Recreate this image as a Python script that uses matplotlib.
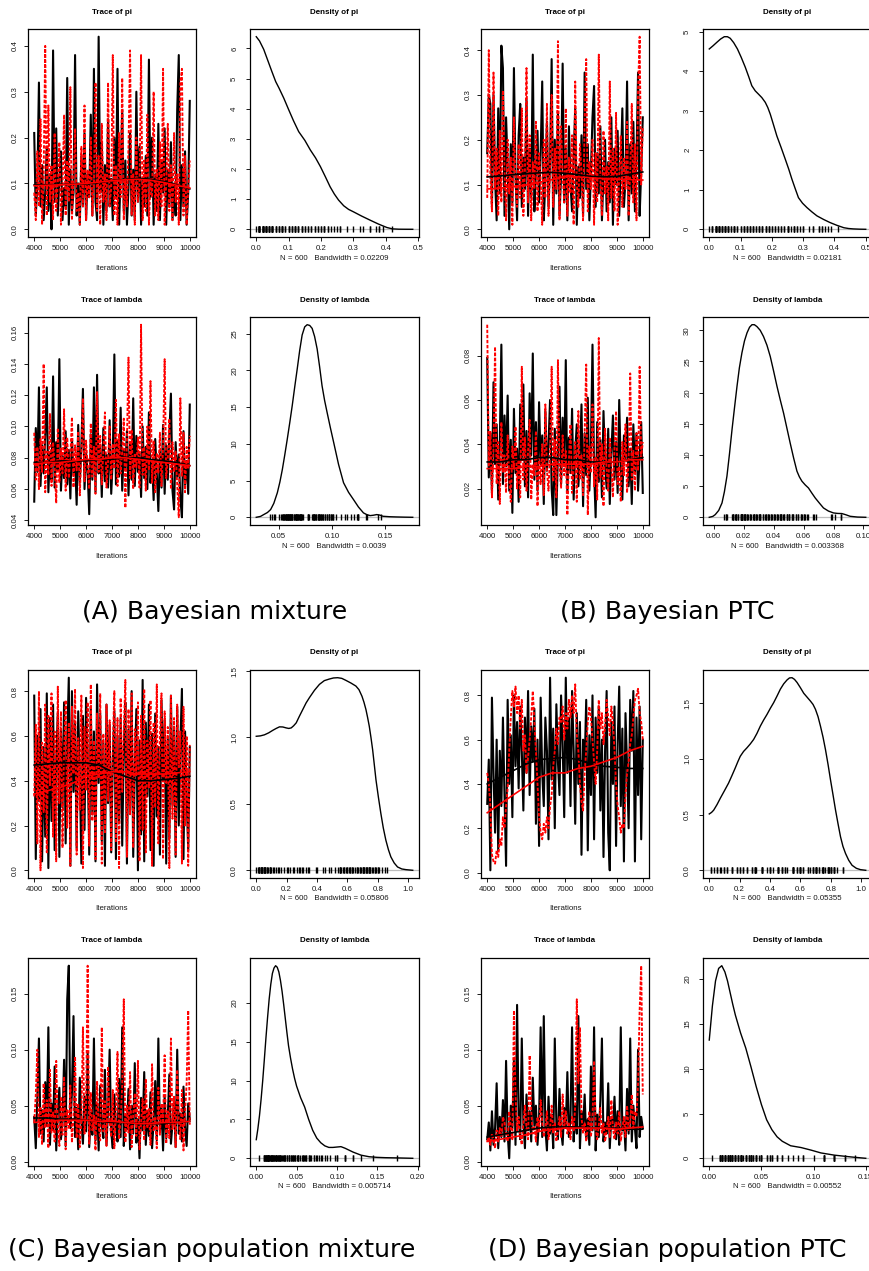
import numpy as np
import matplotlib
matplotlib.use('Agg')
from matplotlib import pyplot as plt

plt.rcParams['font.family'] = ['Liberation Sans', 'DejaVu Sans']

# ---------------------------------------------------------------------------
# MCMC samples (thinned), chain 1 = black, chain 2 = red
# ---------------------------------------------------------------------------
a_pi_black = [0.21, 0.03, 0.10, 0.32, 0.05, 0.14, 0.02, 0.08, 0.18, 0.04,
              0.12, 0.00, 0.39, 0.06, 0.22, 0.03, 0.11, 0.17, 0.02, 0.09,
              0.05, 0.33, 0.01, 0.13, 0.04, 0.08, 0.38, 0.03, 0.10, 0.01,
              0.16, 0.05, 0.21, 0.02, 0.12, 0.07, 0.25, 0.03, 0.35, 0.06,
              0.02, 0.42, 0.08, 0.19, 0.01, 0.14, 0.04, 0.24, 0.05, 0.11,
              0.02, 0.20, 0.07, 0.35, 0.01, 0.12, 0.26, 0.04, 0.15, 0.01,
              0.09, 0.21, 0.03, 0.13, 0.02, 0.30, 0.06, 0.18, 0.01, 0.11,
              0.05, 0.16, 0.03, 0.37, 0.07, 0.20, 0.01, 0.12, 0.04, 0.23,
              0.02, 0.15, 0.08, 0.22, 0.01, 0.13, 0.05, 0.19, 0.02, 0.10,
              0.03, 0.26, 0.38, 0.02, 0.14, 0.05, 0.17, 0.01, 0.08, 0.28]
a_pi_red = [0.08, 0.02, 0.17, 0.05, 0.24, 0.01, 0.12, 0.40, 0.03, 0.27,
            0.06, 0.14, 0.02, 0.21, 0.04, 0.10, 0.19, 0.01, 0.09, 0.25,
            0.03, 0.15, 0.06, 0.31, 0.02, 0.11, 0.22, 0.04, 0.08, 0.01,
            0.18, 0.05, 0.27, 0.02, 0.13, 0.07, 0.20, 0.03, 0.10, 0.32,
            0.04, 0.16, 0.01, 0.23, 0.06, 0.12, 0.02, 0.32, 0.05, 0.09,
            0.38, 0.03, 0.14, 0.01, 0.21, 0.07, 0.33, 0.02, 0.11, 0.05,
            0.18, 0.39, 0.03, 0.12, 0.01, 0.20, 0.06, 0.09, 0.38, 0.02,
            0.15, 0.04, 0.25, 0.01, 0.11, 0.07, 0.30, 0.03, 0.13, 0.02,
            0.19, 0.05, 0.35, 0.01, 0.10, 0.23, 0.04, 0.14, 0.02, 0.21,
            0.06, 0.12, 0.01, 0.32, 0.35, 0.03, 0.16, 0.01, 0.09, 0.15]
a_lam_black = [0.052, 0.099, 0.071, 0.125, 0.062, 0.088, 0.070, 0.094, 0.125, 0.058,
               0.083, 0.066, 0.132, 0.061, 0.090, 0.072, 0.143, 0.059, 0.081, 0.067,
               0.097, 0.063, 0.085, 0.054, 0.092, 0.069, 0.078, 0.050, 0.101, 0.064,
               0.087, 0.124, 0.060, 0.083, 0.071, 0.044, 0.095, 0.066, 0.125, 0.058,
               0.133, 0.070, 0.088, 0.055, 0.099, 0.065, 0.082, 0.061, 0.104, 0.057,
               0.079, 0.146, 0.063, 0.091, 0.068, 0.112, 0.059, 0.085, 0.073, 0.097,
               0.056, 0.089, 0.066, 0.118, 0.062, 0.094, 0.071, 0.083, 0.055, 0.100,
               0.067, 0.087, 0.060, 0.109, 0.064, 0.078, 0.053, 0.092, 0.070, 0.046,
               0.084, 0.061, 0.101, 0.057, 0.088, 0.066, 0.095, 0.121, 0.059, 0.047,
               0.090, 0.068, 0.082, 0.054, 0.042, 0.097, 0.063, 0.078, 0.057, 0.114]
a_lam_red = [0.096, 0.066, 0.087, 0.060, 0.092, 0.071, 0.140, 0.058, 0.084, 0.069,
             0.108, 0.062, 0.090, 0.075, 0.051, 0.099, 0.064, 0.086, 0.070, 0.111,
             0.059, 0.093, 0.067, 0.081, 0.106, 0.061, 0.088, 0.072, 0.097, 0.056,
             0.083, 0.118, 0.065, 0.091, 0.074, 0.060, 0.102, 0.068, 0.087, 0.057,
             0.122, 0.071, 0.094, 0.063, 0.085, 0.109, 0.061, 0.078, 0.100, 0.066,
             0.089, 0.073, 0.117, 0.062, 0.095, 0.070, 0.084, 0.105, 0.048, 0.090,
             0.144, 0.067, 0.098, 0.060, 0.083, 0.074, 0.093, 0.061, 0.165, 0.069,
             0.087, 0.059, 0.100, 0.072, 0.129, 0.064, 0.091, 0.058, 0.083, 0.070,
             0.096, 0.062, 0.087, 0.143, 0.067, 0.079, 0.105, 0.060, 0.090, 0.071,
             0.084, 0.063, 0.042, 0.118, 0.068, 0.096, 0.058, 0.087, 0.073, 0.094]

b_pi_black = [0.17, 0.30, 0.28, 0.05, 0.30, 0.11, 0.02, 0.27, 0.08, 0.41,
              0.36, 0.03, 0.25, 0.14, 0.00, 0.19, 0.06, 0.36, 0.12, 0.02,
              0.21, 0.28, 0.05, 0.16, 0.09, 0.29, 0.03, 0.18, 0.07, 0.39,
              0.04, 0.13, 0.22, 0.06, 0.17, 0.33, 0.02, 0.11, 0.24, 0.05,
              0.15, 0.38, 0.01, 0.20, 0.08, 0.26, 0.03, 0.12, 0.37, 0.06,
              0.18, 0.02, 0.23, 0.10, 0.04, 0.16, 0.27, 0.01, 0.14, 0.07,
              0.21, 0.03, 0.35, 0.09, 0.19, 0.02, 0.13, 0.25, 0.32, 0.05,
              0.17, 0.08, 0.23, 0.02, 0.12, 0.20, 0.04, 0.15, 0.06, 0.25,
              0.01, 0.18, 0.10, 0.22, 0.03, 0.14, 0.27, 0.05, 0.11, 0.33,
              0.02, 0.19, 0.08, 0.24, 0.04, 0.16, 0.35, 0.03, 0.13, 0.25]
b_pi_red = [0.07, 0.40, 0.12, 0.04, 0.35, 0.09, 0.18, 0.03, 0.22, 0.06,
            0.31, 0.14, 0.02, 0.20, 0.08, 0.16, 0.01, 0.25, 0.10, 0.05,
            0.19, 0.07, 0.27, 0.03, 0.13, 0.36, 0.06, 0.21, 0.02, 0.15,
            0.09, 0.24, 0.04, 0.17, 0.11, 0.01, 0.20, 0.07, 0.28, 0.03,
            0.14, 0.30, 0.05, 0.18, 0.09, 0.42, 0.02, 0.23, 0.12, 0.06,
            0.27, 0.03, 0.16, 0.08, 0.21, 0.01, 0.33, 0.10, 0.05, 0.19,
            0.13, 0.02, 0.24, 0.38, 0.04, 0.15, 0.09, 0.20, 0.01, 0.17,
            0.06, 0.39, 0.11, 0.03, 0.22, 0.08, 0.14, 0.02, 0.33, 0.07,
            0.18, 0.04, 0.26, 0.01, 0.12, 0.21, 0.05, 0.16, 0.09, 0.24,
            0.03, 0.13, 0.28, 0.06, 0.19, 0.02, 0.31, 0.43, 0.10, 0.23]
b_lam_black = [0.079, 0.025, 0.045, 0.018, 0.068, 0.031, 0.049, 0.015, 0.040, 0.085,
               0.022, 0.053, 0.030, 0.062, 0.019, 0.042, 0.009, 0.056, 0.027, 0.038,
               0.014, 0.058, 0.033, 0.067, 0.021, 0.046, 0.016, 0.063, 0.035, 0.081,
               0.024, 0.050, 0.019, 0.059, 0.031, 0.044, 0.013, 0.055, 0.028, 0.040,
               0.060, 0.020, 0.008, 0.047, 0.008, 0.036, 0.066, 0.022, 0.052, 0.030,
               0.078, 0.018, 0.043, 0.027, 0.056, 0.015, 0.037, 0.049, 0.021, 0.034,
               0.058, 0.012, 0.045, 0.026, 0.061, 0.019, 0.039, 0.085, 0.028, 0.007,
               0.050, 0.023, 0.042, 0.016, 0.055, 0.031, 0.020, 0.047, 0.013, 0.036,
               0.053, 0.024, 0.041, 0.018, 0.060, 0.029, 0.015, 0.044, 0.033, 0.052,
               0.021, 0.038, 0.013, 0.049, 0.027, 0.045, 0.019, 0.035, 0.050, 0.018]
b_lam_red = [0.094, 0.030, 0.046, 0.016, 0.038, 0.084, 0.022, 0.041, 0.013, 0.050,
             0.027, 0.035, 0.018, 0.044, 0.025, 0.014, 0.039, 0.029, 0.048, 0.020,
             0.033, 0.016, 0.075, 0.024, 0.043, 0.019, 0.037, 0.051, 0.015, 0.031,
             0.026, 0.046, 0.012, 0.034, 0.022, 0.040, 0.017, 0.058, 0.028, 0.019,
             0.036, 0.075, 0.023, 0.042, 0.016, 0.078, 0.030, 0.020, 0.044, 0.026,
             0.037, 0.008, 0.033, 0.049, 0.018, 0.029, 0.041, 0.014, 0.055, 0.024,
             0.035, 0.017, 0.045, 0.076, 0.008, 0.039, 0.027, 0.058, 0.021, 0.034,
             0.015, 0.088, 0.025, 0.040, 0.012, 0.047, 0.029, 0.019, 0.043, 0.031,
             0.016, 0.038, 0.055, 0.022, 0.030, 0.014, 0.041, 0.026, 0.049, 0.018,
             0.033, 0.072, 0.024, 0.037, 0.019, 0.045, 0.028, 0.075, 0.034, 0.041]

c_pi_black = [0.78, 0.05, 0.60, 0.31, 0.72, 0.04, 0.55, 0.15, 0.79, 0.01,
              0.68, 0.22, 0.74, 0.09, 0.48, 0.70, 0.06, 0.63, 0.28, 0.75,
              0.12, 0.58, 0.86, 0.02, 0.80, 0.35, 0.66, 0.10, 0.71, 0.44,
              0.03, 0.69, 0.18, 0.77, 0.52, 0.07, 0.73, 0.25, 0.62, 0.04,
              0.83, 0.39, 0.70, 0.13, 0.57, 0.02, 0.74, 0.30, 0.65, 0.08,
              0.49, 0.71, 0.05, 0.60, 0.21, 0.68, 0.11, 0.54, 0.75, 0.03,
              0.63, 0.27, 0.80, 0.06, 0.45, 0.72, 0.00, 0.58, 0.16, 0.85,
              0.04, 0.66, 0.33, 0.74, 0.09, 0.61, 0.02, 0.70, 0.24, 0.55,
              0.07, 0.76, 0.40, 0.67, 0.03, 0.59, 0.14, 0.78, 0.29, 0.64,
              0.06, 0.73, 0.20, 0.56, 0.81, 0.05, 0.62, 0.34, 0.09, 0.55]
c_pi_red = [0.33, 0.65, 0.12, 0.80, 0.00, 0.57, 0.26, 0.74, 0.08, 0.69,
            0.38, 0.79, 0.15, 0.62, 0.04, 0.82, 0.30, 0.71, 0.10, 0.53,
            0.76, 0.19, 0.66, 0.02, 0.73, 0.43, 0.81, 0.07, 0.59, 0.27,
            0.78, 0.01, 0.64, 0.36, 0.75, 0.11, 0.83, 0.22, 0.58, 0.05,
            0.70, 0.41, 0.79, 0.03, 0.61, 0.17, 0.74, 0.31, 0.67, 0.09,
            0.56, 0.80, 0.13, 0.68, 0.01, 0.77, 0.35, 0.62, 0.85, 0.06,
            0.72, 0.25, 0.79, 0.10, 0.63, 0.42, 0.75, 0.04, 0.69, 0.18,
            0.81, 0.08, 0.58, 0.37, 0.76, 0.02, 0.66, 0.28, 0.83, 0.12,
            0.60, 0.79, 0.05, 0.71, 0.39, 0.64, 0.01, 0.78, 0.23, 0.68,
            0.07, 0.74, 0.46, 0.62, 0.03, 0.73, 0.20, 0.60, 0.02, 0.56]
c_lam_black = [0.040, 0.012, 0.058, 0.110, 0.025, 0.046, 0.018, 0.071, 0.032, 0.120,
               0.015, 0.052, 0.028, 0.085, 0.010, 0.043, 0.066, 0.020, 0.035, 0.091,
               0.014, 0.145, 0.175, 0.030, 0.062, 0.130, 0.022, 0.048, 0.011, 0.075,
               0.036, 0.016, 0.058, 0.027, 0.098, 0.013, 0.044, 0.024, 0.110, 0.019,
               0.052, 0.010, 0.068, 0.033, 0.021, 0.082, 0.015, 0.047, 0.100, 0.026,
               0.012, 0.060, 0.031, 0.018, 0.074, 0.022, 0.120, 0.014, 0.041, 0.029,
               0.065, 0.011, 0.050, 0.025, 0.088, 0.017, 0.038, 0.003, 0.057, 0.028,
               0.080, 0.015, 0.045, 0.023, 0.062, 0.012, 0.036, 0.072, 0.019, 0.110,
               0.027, 0.048, 0.010, 0.059, 0.021, 0.040, 0.078, 0.016, 0.034, 0.054,
               0.013, 0.100, 0.025, 0.043, 0.018, 0.067, 0.030, 0.014, 0.052, 0.038]
c_lam_red = [0.035, 0.060, 0.100, 0.022, 0.048, 0.015, 0.070, 0.030, 0.055, 0.012,
             0.082, 0.026, 0.044, 0.018, 0.090, 0.033, 0.014, 0.058, 0.024, 0.076,
             0.011, 0.046, 0.029, 0.068, 0.017, 0.040, 0.094, 0.021, 0.052, 0.013,
             0.037, 0.120, 0.025, 0.050, 0.175, 0.016, 0.062, 0.028, 0.041, 0.010,
             0.072, 0.032, 0.019, 0.120, 0.027, 0.054, 0.014, 0.085, 0.036, 0.022,
             0.064, 0.012, 0.045, 0.098, 0.020, 0.038, 0.068, 0.145, 0.017, 0.050,
             0.026, 0.080, 0.013, 0.042, 0.061, 0.023, 0.090, 0.011, 0.035, 0.056,
             0.019, 0.074, 0.030, 0.047, 0.015, 0.087, 0.027, 0.039, 0.012, 0.066,
             0.024, 0.052, 0.034, 0.095, 0.016, 0.045, 0.021, 0.110, 0.029, 0.058,
             0.013, 0.082, 0.037, 0.020, 0.064, 0.010, 0.044, 0.070, 0.135, 0.033]

d_pi_black = [0.31, 0.51, 0.01, 0.79, 0.45, 0.18, 0.60, 0.10, 0.55, 0.30,
              0.70, 0.35, 0.03, 0.78, 0.40, 0.62, 0.25, 0.80, 0.48, 0.68,
              0.38, 0.75, 0.55, 0.28, 0.70, 0.45, 0.82, 0.35, 0.66, 0.50,
              0.74, 0.22, 0.60, 0.12, 0.79, 0.45, 0.30, 0.70, 0.55, 0.15,
              0.88, 0.42, 0.65, 0.20, 0.76, 0.50, 0.35, 0.80, 0.58, 0.25,
              0.88, 0.45, 0.70, 0.30, 0.82, 0.55, 0.22, 0.72, 0.40, 0.68,
              0.08, 0.60, 0.48, 0.78, 0.10, 0.62, 0.35, 0.80, 0.15, 0.70,
              0.45, 0.75, 0.28, 0.60, 0.07, 0.55, 0.82, 0.18, 0.01, 0.68,
              0.40, 0.75, 0.12, 0.58, 0.84, 0.30, 0.65, 0.05, 0.72, 0.48,
              0.20, 0.78, 0.55, 0.82, 0.05, 0.70, 0.35, 0.75, 0.15, 0.60]
d_pi_red = [0.45, 0.40, 0.30, 0.08, 0.05, 0.04, 0.10, 0.07, 0.15, 0.12,
            0.25, 0.20, 0.30, 0.38, 0.55, 0.70, 0.82, 0.75, 0.84, 0.72,
            0.80, 0.65, 0.78, 0.55, 0.62, 0.45, 0.52, 0.60, 0.70, 0.82,
            0.68, 0.55, 0.40, 0.25, 0.18, 0.15, 0.22, 0.18, 0.25, 0.20,
            0.30, 0.35, 0.48, 0.55, 0.65, 0.58, 0.70, 0.68, 0.75, 0.60,
            0.72, 0.65, 0.78, 0.70, 0.80, 0.72, 0.85, 0.62, 0.55, 0.40,
            0.32, 0.28, 0.45, 0.55, 0.68, 0.75, 0.70, 0.60, 0.50, 0.40,
            0.55, 0.78, 0.65, 0.72, 0.58, 0.66, 0.78, 0.70, 0.62, 0.75,
            0.68, 0.55, 0.40, 0.30, 0.25, 0.18, 0.22, 0.20, 0.35, 0.45,
            0.50, 0.58, 0.62, 0.70, 0.78, 0.80, 0.83, 0.72, 0.68, 0.60]
d_lam_black = [0.020, 0.035, 0.010, 0.045, 0.015, 0.030, 0.070, 0.012, 0.040, 0.022,
               0.055, 0.018, 0.090, 0.025, 0.003, 0.050, 0.030, 0.090, 0.015, 0.140,
               0.040, 0.020, 0.110, 0.035, 0.012, 0.060, 0.028, 0.045, 0.018, 0.075,
               0.032, 0.050, 0.015, 0.038, 0.120, 0.022, 0.130, 0.030, 0.010, 0.058,
               0.025, 0.042, 0.012, 0.110, 0.035, 0.020, 0.065, 0.028, 0.015, 0.048,
               0.030, 0.080, 0.022, 0.040, 0.120, 0.018, 0.050, 0.025, 0.130, 0.012,
               0.045, 0.030, 0.060, 0.020, 0.038, 0.015, 0.085, 0.028, 0.120, 0.010,
               0.042, 0.022, 0.055, 0.110, 0.018, 0.035, 0.025, 0.070, 0.012, 0.040,
               0.030, 0.058, 0.020, 0.045, 0.015, 0.120, 0.028, 0.038, 0.010, 0.065,
               0.025, 0.110, 0.018, 0.050, 0.030, 0.012, 0.100, 0.022, 0.040, 0.030]
d_lam_red = [0.018, 0.022, 0.015, 0.025, 0.020, 0.012, 0.028, 0.018, 0.030, 0.022,
             0.040, 0.035, 0.025, 0.018, 0.045, 0.030, 0.020, 0.135, 0.060, 0.028,
             0.040, 0.022, 0.015, 0.035, 0.050, 0.030, 0.020, 0.095, 0.045, 0.025,
             0.032, 0.018, 0.040, 0.028, 0.055, 0.035, 0.022, 0.030, 0.045, 0.020,
             0.030, 0.050, 0.025, 0.035, 0.018, 0.028, 0.040, 0.022, 0.060, 0.030,
             0.045, 0.025, 0.035, 0.020, 0.040, 0.028, 0.050, 0.145, 0.070, 0.120,
             0.040, 0.025, 0.035, 0.018, 0.030, 0.045, 0.022, 0.038, 0.090, 0.030,
             0.020, 0.032, 0.048, 0.025, 0.035, 0.018, 0.028, 0.040, 0.022, 0.055,
             0.030, 0.020, 0.035, 0.025, 0.045, 0.018, 0.030, 0.040, 0.022, 0.050,
             0.028, 0.035, 0.060, 0.030, 0.045, 0.040, 0.070, 0.135, 0.175, 0.060]

# lowess smooths of each chain, evaluated every 500 iterations
smooth_iter = [4000, 4500, 5000, 5500, 6000, 6500, 7000, 7500, 8000, 8500, 9000, 9500, 10000]
a_pi_smooth_black = [0.097, 0.097, 0.098, 0.098, 0.099, 0.102, 0.106, 0.109, 0.111, 0.109, 0.104, 0.097, 0.088]
a_pi_smooth_red = [0.095, 0.096, 0.097, 0.098, 0.100, 0.103, 0.106, 0.108, 0.109, 0.107, 0.102, 0.096, 0.090]
a_lam_smooth_black = [0.077, 0.077, 0.078, 0.078, 0.078, 0.079, 0.079, 0.080, 0.080, 0.079, 0.078, 0.077, 0.075]
a_lam_smooth_red = [0.076, 0.077, 0.077, 0.078, 0.079, 0.079, 0.080, 0.080, 0.079, 0.078, 0.077, 0.076, 0.075]
b_pi_smooth_black = [0.117, 0.119, 0.122, 0.124, 0.126, 0.127, 0.125, 0.122, 0.118, 0.117, 0.118, 0.123, 0.128]
b_pi_smooth_red = [0.090, 0.092, 0.095, 0.099, 0.105, 0.111, 0.118, 0.117, 0.115, 0.113, 0.112, 0.111, 0.110]
b_lam_smooth_black = [0.032, 0.032, 0.033, 0.033, 0.034, 0.034, 0.033, 0.033, 0.032, 0.032, 0.032, 0.033, 0.034]
b_lam_smooth_red = [0.029, 0.029, 0.029, 0.030, 0.030, 0.031, 0.031, 0.031, 0.031, 0.032, 0.032, 0.033, 0.033]
c_pi_smooth_black = [0.47, 0.475, 0.48, 0.48, 0.48, 0.47, 0.44, 0.42, 0.40, 0.40, 0.405, 0.41, 0.42]
c_pi_smooth_red = [0.34, 0.355, 0.37, 0.39, 0.42, 0.43, 0.44, 0.44, 0.43, 0.43, 0.43, 0.435, 0.44]
c_lam_smooth_black = [0.039, 0.039, 0.038, 0.038, 0.037, 0.036, 0.035, 0.035, 0.034, 0.034, 0.034, 0.035, 0.036]
c_lam_smooth_red = [0.035, 0.036, 0.037, 0.037, 0.037, 0.036, 0.036, 0.035, 0.034, 0.034, 0.035, 0.035, 0.036]
d_pi_smooth_black = [0.40, 0.43, 0.46, 0.49, 0.51, 0.515, 0.52, 0.51, 0.49, 0.48, 0.475, 0.47, 0.47]
d_pi_smooth_red = [0.27, 0.31, 0.35, 0.39, 0.43, 0.45, 0.45, 0.47, 0.48, 0.50, 0.52, 0.55, 0.57]
d_lam_smooth_black = [0.022, 0.024, 0.026, 0.028, 0.030, 0.031, 0.031, 0.031, 0.030, 0.030, 0.030, 0.029, 0.029]
d_lam_smooth_red = [0.018, 0.020, 0.022, 0.024, 0.027, 0.029, 0.030, 0.030, 0.030, 0.030, 0.029, 0.030, 0.031]

# kernel density estimates of chain 1
a_pi_dens_x = [0.000, 0.010, 0.023, 0.035, 0.048, 0.060, 0.070, 0.085, 0.100, 0.115,
               0.131, 0.150, 0.167, 0.183, 0.198, 0.213, 0.228, 0.241, 0.254, 0.270,
               0.285, 0.300, 0.325, 0.352, 0.378, 0.403, 0.420, 0.440, 0.460, 0.483]
a_pi_dens_y = [6.39, 6.25, 5.97, 5.62, 5.24, 4.90, 4.69, 4.35, 3.97, 3.60,
               3.24, 2.95, 2.63, 2.37, 2.08, 1.75, 1.41, 1.17, 0.97, 0.78,
               0.66, 0.58, 0.44, 0.30, 0.17, 0.06, 0.015, 0.003, 0.001, 0.000]
a_lam_dens_x = [0.029, 0.033, 0.036, 0.0395, 0.0425, 0.0455, 0.0488, 0.0512, 0.0535, 0.0558,
                0.0581, 0.0605, 0.0628, 0.0652, 0.0675, 0.0698, 0.0721, 0.0745, 0.0768, 0.0792,
                0.0815, 0.0838, 0.0862, 0.0885, 0.0908, 0.0932, 0.0955, 0.0986, 0.1017, 0.1063,
                0.111, 0.1157, 0.1204, 0.125, 0.1297, 0.133, 0.136, 0.139, 0.1422, 0.145,
                0.148, 0.154, 0.160, 0.168, 0.176]
a_lam_dens_y = [0.0, 0.12, 0.37, 0.65, 1.05, 1.9, 3.34, 4.8, 6.5, 8.5,
                10.6, 12.9, 15.2, 17.8, 20.2, 22.7, 24.8, 25.9, 26.2, 26.1,
                25.7, 24.6, 22.9, 20.5, 17.9, 15.9, 14.3, 12.2, 10.2, 7.2,
                4.7, 3.4, 2.4, 1.4, 0.6, 0.35, 0.23, 0.28, 0.37, 0.3,
                0.14, 0.08, 0.05, 0.02, 0.0]
b_pi_dens_x = [0.000, 0.012, 0.0245, 0.036, 0.048, 0.058, 0.067, 0.078, 0.090, 0.102,
               0.115, 0.126, 0.136, 0.147, 0.157, 0.168, 0.179, 0.187, 0.195, 0.205,
               0.216, 0.230, 0.243, 0.254, 0.264, 0.275, 0.285, 0.298, 0.312, 0.328,
               0.344, 0.365, 0.386, 0.408, 0.430, 0.445, 0.460, 0.480, 0.500]
b_pi_dens_y = [4.56, 4.64, 4.73, 4.81, 4.87, 4.87, 4.83, 4.72, 4.56, 4.35,
               4.10, 3.86, 3.63, 3.50, 3.42, 3.33, 3.21, 3.08, 2.91, 2.65,
               2.36, 2.06, 1.77, 1.52, 1.27, 1.02, 0.80, 0.66, 0.55, 0.44,
               0.34, 0.25, 0.17, 0.10, 0.04, 0.02, 0.01, 0.003, 0.0]
b_lam_dens_x = [-0.0029, -0.0005, 0.0011, 0.0034, 0.0056, 0.0072, 0.0089, 0.0106, 0.0123, 0.0140,
                0.0156, 0.0172, 0.0189, 0.0206, 0.0223, 0.0240, 0.0256, 0.0272, 0.0289, 0.0311,
                0.0333, 0.0356, 0.0378, 0.0400, 0.0423, 0.0445, 0.0467, 0.0489, 0.0511, 0.0534,
                0.0556, 0.0572, 0.0589, 0.0611, 0.0633, 0.0655, 0.0678, 0.0705, 0.0733, 0.0766,
                0.080, 0.0828, 0.0856, 0.0883, 0.0911, 0.0960, 0.1015]
b_lam_dens_y = [0.0, 0.15, 0.43, 1.1, 2.3, 4.1, 6.6, 10.2, 14.1, 17.7,
                21.0, 24.0, 26.4, 28.3, 29.6, 30.5, 30.9, 30.9, 30.6, 30.0,
                29.0, 27.6, 25.8, 23.5, 21.0, 18.8, 16.7, 14.3, 11.9, 9.5,
                7.4, 6.5, 5.8, 5.2, 4.7, 3.9, 3.1, 2.3, 1.5, 1.0,
                0.7, 0.62, 0.6, 0.4, 0.16, 0.04, 0.0]
c_pi_dens_x = [0.000, 0.027, 0.054, 0.082, 0.109, 0.131, 0.153, 0.175, 0.197, 0.214,
               0.230, 0.246, 0.263, 0.284, 0.306, 0.328, 0.350, 0.383, 0.416, 0.448,
               0.481, 0.508, 0.536, 0.563, 0.590, 0.623, 0.656, 0.676, 0.696, 0.709,
               0.722, 0.733, 0.744, 0.755, 0.766, 0.777, 0.788, 0.804, 0.820, 0.836,
               0.853, 0.870, 0.886, 0.908, 0.930, 0.958, 0.985, 1.030]
c_pi_dens_y = [1.009, 1.012, 1.02, 1.035, 1.054, 1.068, 1.08, 1.079, 1.072, 1.068,
               1.072, 1.088, 1.11, 1.16, 1.21, 1.26, 1.30, 1.355, 1.40, 1.428,
               1.44, 1.448, 1.45, 1.445, 1.43, 1.41, 1.387, 1.36, 1.31, 1.265,
               1.21, 1.15, 1.084, 1.0, 0.908, 0.795, 0.681, 0.55, 0.429, 0.32,
               0.227, 0.155, 0.101, 0.055, 0.025, 0.01, 0.005, 0.0]
c_lam_dens_x = [0.000, 0.002, 0.004, 0.006, 0.008, 0.010, 0.012, 0.014, 0.016, 0.018,
                0.020, 0.022, 0.024, 0.026, 0.028, 0.030, 0.032, 0.034, 0.036, 0.038,
                0.040, 0.0425, 0.045, 0.0475, 0.050, 0.055, 0.060, 0.065, 0.070, 0.075,
                0.080, 0.085, 0.090, 0.095, 0.100, 0.105, 0.110, 0.115, 0.120, 0.130,
                0.140, 0.150, 0.160, 0.175, 0.194]
c_lam_dens_y = [2.4, 3.8, 5.5, 7.6, 10.0, 12.7, 15.5, 18.1, 20.5, 22.4,
                23.8, 24.5, 24.8, 24.6, 24.0, 22.9, 21.5, 19.8, 18.0, 16.2,
                14.5, 12.9, 11.5, 10.3, 9.3, 7.8, 6.6, 5.0, 3.6, 2.6,
                2.0, 1.6, 1.4, 1.4, 1.45, 1.5, 1.3, 1.05, 0.8, 0.4,
                0.2, 0.12, 0.08, 0.05, 0.0]
d_pi_dens_x = [0.000, 0.015, 0.029, 0.051, 0.073, 0.100, 0.127, 0.149, 0.171, 0.188,
               0.204, 0.226, 0.248, 0.270, 0.292, 0.314, 0.336, 0.358, 0.380, 0.402,
               0.424, 0.446, 0.468, 0.490, 0.512, 0.528, 0.545, 0.561, 0.578, 0.600,
               0.622, 0.644, 0.666, 0.683, 0.699, 0.716, 0.732, 0.749, 0.765, 0.782,
               0.798, 0.815, 0.831, 0.848, 0.864, 0.880, 0.897, 0.918, 0.940, 0.968,
               0.995, 1.030]
d_pi_dens_y = [0.506, 0.52, 0.54, 0.59, 0.648, 0.715, 0.783, 0.85, 0.919, 0.975,
               1.024, 1.068, 1.10, 1.135, 1.175, 1.23, 1.295, 1.35, 1.40, 1.455,
               1.506, 1.565, 1.627, 1.675, 1.71, 1.728, 1.73, 1.715, 1.687, 1.64,
               1.59, 1.555, 1.52, 1.49, 1.446, 1.38, 1.295, 1.195, 1.084, 0.95,
               0.813, 0.675, 0.542, 0.415, 0.301, 0.215, 0.151, 0.09, 0.045, 0.018,
               0.006, 0.0]
d_lam_dens_x = [0.000, 0.003, 0.006, 0.009, 0.012, 0.015, 0.0175, 0.020, 0.0225, 0.025,
                0.030, 0.035, 0.040, 0.045, 0.050, 0.055, 0.060, 0.065, 0.070, 0.078,
                0.088, 0.098, 0.107, 0.120, 0.136, 0.150]
d_lam_dens_y = [13.2, 17.0, 19.8, 21.2, 21.5, 20.8, 19.8, 18.5, 17.2, 16.0,
                14.0, 12.3, 10.2, 8.0, 6.0, 4.3, 3.2, 2.4, 1.9, 1.4,
                1.2, 0.9, 0.6, 0.35, 0.15, 0.0]

bandwidths = ['0.02209', '0.0039', '0.02181', '0.003368',
              '0.05806', '0.005714', '0.05355', '0.00552']
captions = ['(A) Bayesian mixture', '(B) Bayesian PTC',
            '(C) Bayesian population mixture', '(D) Bayesian population PTC']

iter_ticks = [4000, 5000, 6000, 7000, 8000, 9000, 10000]
pi_ticks_small = [0.0, 0.1, 0.2, 0.3, 0.4]
pi_ticks_wide = [0.0, 0.2, 0.4, 0.6, 0.8]
a_lam_ticks = [0.04, 0.06, 0.08, 0.10, 0.12, 0.14, 0.16]
b_lam_ticks = [0.02, 0.04, 0.06, 0.08]
cd_lam_ticks = [0.00, 0.05, 0.10, 0.15]

W, H = 869, 1271
fig = plt.figure(figsize=(W / 100, H / 100), dpi=100)

PT = 72 / 100  # points per pixel
LABEL_SIZE = 5.7
TEXT_COLOR = '#1a1a1a'


def add_axes_px(left, top, width, height):
    return fig.add_axes([left / W, 1 - (top + height) / H, width / W, height / H])


def r_limits(lo, hi):
    # R's default 4% axis extension
    pad = 0.04 * (hi - lo)
    return lo - pad, hi + pad


def fmt(values, dec):
    return [f'{v:.{dec}f}' for v in values]


def style_axes(ax, ypad):
    for sp in ax.spines.values():
        sp.set_linewidth(0.9)
    ax.tick_params(direction='out', length=3, width=0.7, labelsize=LABEL_SIZE,
                   colors=TEXT_COLOR)
    ax.tick_params(axis='x', pad=2.8)
    ax.tick_params(axis='y', labelrotation=90, pad=ypad)
    for lbl in ax.get_yticklabels():
        lbl.set_va('center')


def annotate_px(ax, text, y_axes, dy_px, **kw):
    ax.annotate(text, xy=(0.5, y_axes), xycoords='axes fraction',
                xytext=(0, dy_px * PT), textcoords='offset points',
                ha='center', va='center', annotation_clip=False, **kw)


def draw_trace(ax, name, black, red, sm_black, sm_red, yticks, ydec):
    black = np.asarray(black)
    red = np.asarray(red)
    ax.plot(np.linspace(4000, 10000, len(black)), black, color='black', lw=1.5)
    ax.plot(np.linspace(4000, 10000, len(red)), red, color='red', lw=1.35,
            ls=(0, (1.8, 0.9)))
    ax.plot(smooth_iter, sm_black, color='black', lw=1.2)
    ax.plot(smooth_iter, sm_red, color='red', lw=1.2)
    ax.set_xlim(*r_limits(4000, 10000))
    ax.set_ylim(*r_limits(min(black.min(), red.min()), max(black.max(), red.max())))
    ax.set_xticks(iter_ticks, [str(t) for t in iter_ticks])
    ax.set_yticks(yticks, fmt(yticks, ydec))
    style_axes(ax, ypad=3.5)
    annotate_px(ax, f'Trace of {name}', 1, 17, fontsize=5.8, fontweight='bold')
    annotate_px(ax, 'Iterations', 0, -31, fontsize=LABEL_SIZE, color=TEXT_COLOR)


def draw_density(ax, name, xs, ys, samples, bw, xticks, xdec, yticks, ydec):
    ax.axhline(0, color='#bdbdbd', lw=0.9, zorder=1)
    ax.plot(xs, ys, color='black', lw=1.0, zorder=3)
    ax.plot(samples, np.zeros(len(samples)), ls='none', marker='|', ms=3.8,
            mew=1.0, color='black', zorder=2)
    ax.set_xlim(*r_limits(min(xs), max(xs)))
    ax.set_ylim(*r_limits(0, max(ys)))
    ax.set_xticks(xticks, fmt(xticks, xdec))
    ax.set_yticks(yticks, fmt(yticks, ydec))
    style_axes(ax, ypad=5.5)
    annotate_px(ax, f'Density of {name}', 1, 17, fontsize=5.8, fontweight='bold')
    annotate_px(ax, f'N = 600   Bandwidth = {bw}', 0, -21, fontsize=LABEL_SIZE,
                color=TEXT_COLOR)


panels = [
    (a_pi_black, a_pi_red, a_pi_smooth_black, a_pi_smooth_red, pi_ticks_small, 1,
     a_pi_dens_x, a_pi_dens_y, [0.0, 0.1, 0.2, 0.3, 0.4, 0.5], 1, [0, 1, 2, 3, 4, 5, 6], 0,
     a_lam_black, a_lam_red, a_lam_smooth_black, a_lam_smooth_red, a_lam_ticks, 2,
     a_lam_dens_x, a_lam_dens_y, [0.05, 0.10, 0.15], 2, [0, 5, 10, 15, 20, 25], 0),
    (b_pi_black, b_pi_red, b_pi_smooth_black, b_pi_smooth_red, pi_ticks_small, 1,
     b_pi_dens_x, b_pi_dens_y, [0.0, 0.1, 0.2, 0.3, 0.4, 0.5], 1, [0, 1, 2, 3, 4, 5], 0,
     b_lam_black, b_lam_red, b_lam_smooth_black, b_lam_smooth_red, b_lam_ticks, 2,
     b_lam_dens_x, b_lam_dens_y, [0.00, 0.02, 0.04, 0.06, 0.08, 0.10], 2,
     [0, 5, 10, 15, 20, 25, 30], 0),
    (c_pi_black, c_pi_red, c_pi_smooth_black, c_pi_smooth_red, pi_ticks_wide, 1,
     c_pi_dens_x, c_pi_dens_y, [0.0, 0.2, 0.4, 0.6, 0.8, 1.0], 1, [0.0, 0.5, 1.0, 1.5], 1,
     c_lam_black, c_lam_red, c_lam_smooth_black, c_lam_smooth_red, cd_lam_ticks, 2,
     c_lam_dens_x, c_lam_dens_y, [0.00, 0.05, 0.10, 0.15, 0.20], 2, [0, 5, 10, 15, 20], 0),
    (d_pi_black, d_pi_red, d_pi_smooth_black, d_pi_smooth_red, pi_ticks_wide, 1,
     d_pi_dens_x, d_pi_dens_y, [0.0, 0.2, 0.4, 0.6, 0.8, 1.0], 1, [0.0, 0.5, 1.0, 1.5], 1,
     d_lam_black, d_lam_red, d_lam_smooth_black, d_lam_smooth_red, cd_lam_ticks, 2,
     d_lam_dens_x, d_lam_dens_y, [0.00, 0.05, 0.10, 0.15], 2, [0, 5, 10, 15, 20], 0),
]

trace_left = [28, 481]
dens_left = [250, 703]
row_top = [29, 317, 670, 958]
AX_W, AX_H = 168, 208
caption_pos = [(215, 612), (667, 612), (212, 1250), (667, 1250)]

for k, p in enumerate(panels):
    col = k % 2
    r0 = 2 * (k // 2)
    for j, name in enumerate(['pi', 'lambda']):
        (black, red, sm_b, sm_r, yt, yd,
         dx, dy, dxt, dxd, dyt, dyd) = p[12 * j:12 * (j + 1)]
        ax_t = add_axes_px(trace_left[col], row_top[r0 + j], AX_W, AX_H)
        draw_trace(ax_t, name, black, red, sm_b, sm_r, yt, yd)
        ax_d = add_axes_px(dens_left[col], row_top[r0 + j], AX_W + 1, AX_H)
        # rug shows the first chain, the one the density is estimated from
        draw_density(ax_d, name, dx, dy, np.asarray(black),
                     bandwidths[2 * k + j], dxt, dxd, dyt, dyd)
    cx, cy = caption_pos[k]
    fig.text(cx / W, 1 - cy / H, captions[k], ha='center', va='center',
             fontsize=18.2, family='DejaVu Sans')

fig.savefig('out.png', dpi=100)
